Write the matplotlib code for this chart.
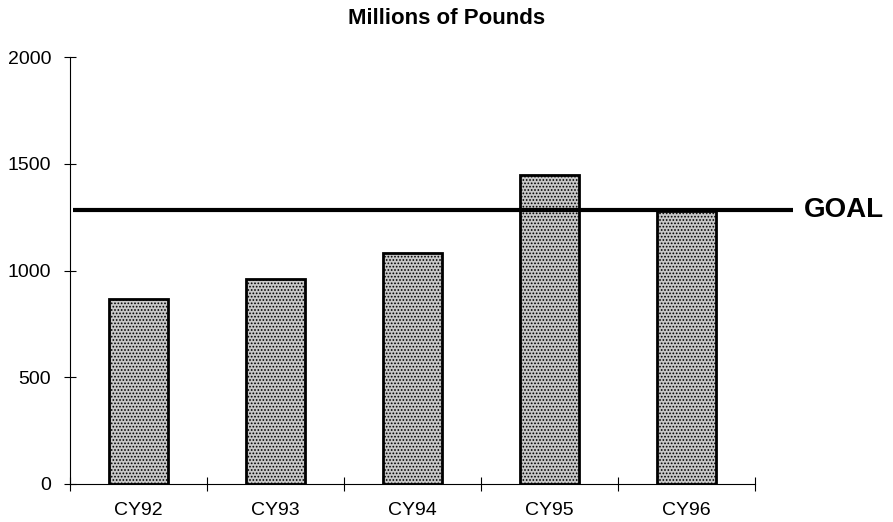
import matplotlib
matplotlib.use("Agg")
import matplotlib.pyplot as plt
import numpy as np

categories = ["CY92", "CY93", "CY94", "CY95", "CY96"]
values = [866, 961, 1083, 1449, 1280]
goal = 1285
yticks = [0, 500, 1000, 1500, 2000]

plt.rcParams['font.family'] = ['Liberation Sans', 'DejaVu Sans']
plt.rcParams['hatch.color'] = '#6e6e6e'
plt.rcParams['hatch.linewidth'] = 0.8

fig = plt.figure(figsize=(8.93, 5.22), dpi=100)
ax = fig.add_axes([70/893, 1-484/522, 685/893, (484-57)/522])

x = np.arange(len(categories))
ax.bar(x, values, width=0.43, facecolor='#c8c8c8', edgecolor='black',
       linewidth=2, hatch='.....', zorder=2)

ax.plot([-0.48, 4.78], [goal, goal], color='black', linewidth=3,
        clip_on=False, zorder=3, solid_capstyle='butt')
ax.text(4.86, goal, "GOAL", fontsize=20, fontweight='bold',
        va='center', ha='left')

ax.set_xlim(-0.5, 4.5)
ax.set_ylim(0, 2000)
ax.set_yticks(yticks)
ax.set_yticklabels([str(v) for v in yticks], fontsize=14)
ax.set_xticks(x)
ax.set_xticklabels(categories, fontsize=14)
ax.set_xticks(np.arange(-0.5, 5.0, 1.0), minor=True)
ax.tick_params(axis='x', which='major', length=0, pad=13)
ax.tick_params(axis='x', which='minor', direction='inout', length=10, width=0.8)
ax.tick_params(axis='y', direction='inout', length=9, width=0.8, pad=9)

for s in ['top', 'right']:
    ax.spines[s].set_visible(False)
ax.spines['left'].set_linewidth(0.8)
ax.spines['bottom'].set_linewidth(0.8)

fig.text(0.5, 1-18/522, "Millions of Pounds", fontsize=16, fontweight='bold',
         ha='center', va='center')

fig.savefig("out.png", dpi=100)
